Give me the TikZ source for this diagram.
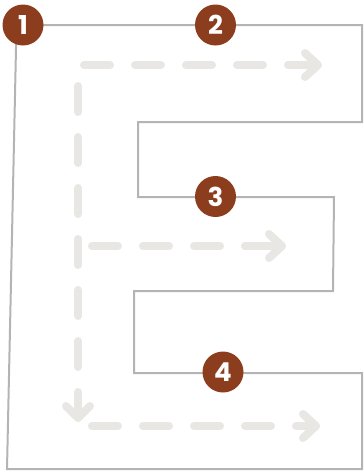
\documentclass[tikz,border=0pt]{standalone}
\usepackage{fontspec}
\setmainfont{Poppins}
\definecolor{brownc}{HTML}{8B3D1E}
\definecolor{dashc}{HTML}{E8E7E3}
\definecolor{edgec}{HTML}{B4B4B4}
\begin{document}
\begin{tikzpicture}[x=1pt,y=-1pt,
  outline/.style={draw=edgec,line width=2pt,line join=miter},
  guide/.style={draw=dashc,line width=8pt,line cap=round,dash pattern=on 26pt off 25pt},
  head/.style={draw=dashc,line width=8pt,line cap=round,line join=round},
  badge/.style={circle,fill=brownc,minimum size=41pt,inner sep=0pt,text=white,font=\fontsize{26}{26}\selectfont\bfseries}]
\useasboundingbox (0,0) rectangle (364,472);
% E outline
\draw[outline] (16.5,25) -- (362,25) -- (362,122) -- (138,122) -- (138,197) -- (334,197)
  -- (333,291) -- (134,291) -- (134,373) -- (362,373) -- (362,469) -- (7,469) -- cycle;
% guide arrows
\draw[guide] (84,65) -- (318,65);
\draw[head] (305,53) -- (318,65) -- (305,77);
\draw[guide] (78,86) -- (78,418);
\draw[head] (66,406) -- (78,418) -- (90,406);
\draw[guide] (92,246) -- (271,246);
\draw[head] (245,246) -- (282,246);
\draw[head] (269,234) -- (282,246) -- (269,258);
\draw[guide] (92,426) -- (316,426);
\draw[head] (303,414) -- (316,426) -- (303,438);
% badges
\node[badge] (n1) at (23,25) {1};
\node[badge] (n2) at (215.5,25) {2};
\node[badge] (n3) at (215.5,196.5) {3};
\node[badge] (n4) at (223,372) {4};
\end{tikzpicture}
\end{document}
